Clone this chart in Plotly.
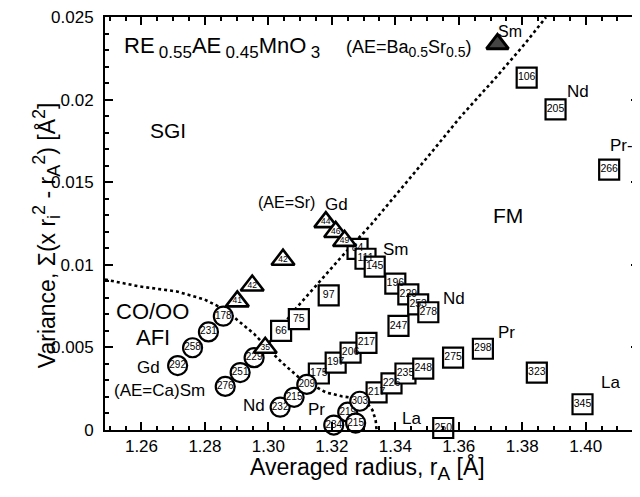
import plotly.graph_objects as go

# ---------------- data ----------------
# AE = Ca series (circles)
ca_labels = ["292", "258", "231", "178", "276", "251", "229", "232", "215", "209",
             "234", "219", "215", "303"]
ca_x = [1.2714, 1.2761, 1.2811, 1.2858, 1.2864, 1.2911, 1.2955, 1.3037, 1.3081, 1.3121,
        1.3206, 1.3250, 1.3275, 1.3288]
ca_y = [0.00390, 0.00498, 0.00594, 0.00689, 0.00264, 0.00348, 0.00438, 0.00138, 0.00198, 0.00276,
        0.00030, 0.00108, 0.00042, 0.00174]

# mixed series (squares)
sq_labels = ["66", "75", "97", "84", "111", "145", "196", "229", "253", "278", "247",
             "175", "197", "206", "217", "217", "226", "235", "248", "275", "298",
             "250", "323", "345", "106", "205", "266"]
sq_x = [1.3040, 1.3096, 1.3190, 1.3281, 1.3306, 1.3335, 1.3400, 1.3441, 1.3472, 1.3504, 1.3410,
        1.3159, 1.3212, 1.3259, 1.3309, 1.3341, 1.3388, 1.3432, 1.3488, 1.3582, 1.3676,
        1.3551, 1.3846, 1.3990, 1.3814, 1.3905, 1.4074]
sq_y = [0.00600, 0.00671, 0.00815, 0.01097, 0.01037, 0.00989, 0.00887, 0.00821, 0.00761, 0.00713, 0.00630,
        0.00342, 0.00408, 0.00468, 0.00528, 0.00228, 0.00282, 0.00342, 0.00372, 0.00438, 0.00492,
        0.00012, 0.00348, 0.00156, 0.02134, 0.01942, 0.01577]

# AE = Sr series (triangles)
tri_labels = ["41", "42", "42", "35", "44", "46", "49"]
tri_x = [1.2902, 1.2949, 1.3046, 1.2990, 1.3181, 1.3212, 1.3240]
tri_y = [0.00779, 0.00875, 0.01031, 0.00498, 0.01259, 0.01199, 0.01145]

# AE = Ba0.5Sr0.5 (triangle)
basr_x = [1.3722]
basr_y = [0.02338]

# phase boundaries (dotted)
coo_x = [1.2485, 1.2595, 1.2711, 1.2798, 1.2861, 1.2908, 1.2955, 1.2996, 1.3043, 1.3096,
         1.3134, 1.3181, 1.3231, 1.3275, 1.3309, 1.3328, 1.3338, 1.3341]
coo_y = [0.00911, 0.00869, 0.00839, 0.00791, 0.00731, 0.00659, 0.00582, 0.00498, 0.00408, 0.00318,
         0.00276, 0.00228, 0.00204, 0.00192, 0.00168, 0.00120, 0.00060, 0.0]
sgi_x = [1.2990, 1.3087, 1.3222, 1.3325, 1.3513, 1.3607, 1.3714, 1.3808, 1.3875]
sgi_y = [0.00498, 0.00737, 0.01031, 0.01247, 0.01679, 0.01900, 0.02128, 0.02338, 0.02500]

FONT = "Arial, Liberation Sans, sans-serif"

fig = go.Figure()

dot = dict(color="black", width=2.6, dash="dot")
fig.add_trace(go.Scatter(x=coo_x, y=coo_y, mode="lines", line=dot, showlegend=False, hoverinfo="skip"))
fig.add_trace(go.Scatter(x=sgi_x, y=sgi_y, mode="lines", line=dot, showlegend=False, hoverinfo="skip"))

mk_line = dict(color="black", width=2.2)
fig.add_trace(go.Scatter(
    x=sq_x, y=sq_y, mode="markers+text", text=sq_labels, textposition="middle center",
    textfont=dict(family=FONT, size=10.5, color="black"),
    marker=dict(symbol="square", size=20, color="white", line=mk_line),
    cliponaxis=False, showlegend=False))
fig.add_trace(go.Scatter(
    x=ca_x, y=ca_y, mode="markers+text", text=ca_labels, textposition="middle center",
    textfont=dict(family=FONT, size=10, color="black"),
    marker=dict(symbol="circle", size=19, color="white", line=mk_line),
    cliponaxis=False, showlegend=False))
fig.add_trace(go.Scatter(
    x=tri_x, y=tri_y, mode="markers+text", text=tri_labels, textposition="middle center",
    textfont=dict(family=FONT, size=8.5, color="black"),
    marker=dict(symbol="triangle-up", size=20, color="white", line=dict(color="black", width=2.6)),
    cliponaxis=False, showlegend=False))
fig.add_trace(go.Scatter(
    x=basr_x, y=basr_y, mode="markers",
    marker=dict(symbol="triangle-up", size=19, color="#444", line=dict(color="black", width=3)),
    cliponaxis=False, showlegend=False))

# The page has an 8 px body margin: screen = figure + 8.
OFF = 8
# plot area in screen pixels
L, R, T, B = 105, 641, 13, 430
FW, FH = R - OFF, 497 - OFF


def px(xp, yp):
    return (xp - L) / (R - L), (B - yp) / (B - T)


def label(xp, yp, text, size, xanchor="center"):
    x, y = px(xp, yp)
    fig.add_annotation(x=x, y=y, xref="paper", yref="paper", text=text, showarrow=False,
                       xanchor=xanchor, yanchor="middle",
                       font=dict(family=FONT, size=size, color="black"))


def small(t, s):
    return "<span style='font-size:%dpx'>%s</span>" % (s, t)


NB = "\u00a0"
label(122, 44, "RE<sub>" + NB + small("0.55", 17) + "</sub>AE<sub>" + NB + small("0.45", 17)
      + "</sub>MnO<sub>" + NB + small("3", 17) + "</sub>", 22, xanchor="left")
label(410, 45, "(AE=Ba<sub>" + small("0.5", 14) + "</sub>Sr<sub>" + small("0.5", 14) + "</sub>)", 18)
label(512, 28, "Sm", 16)
label(168, 128, "SGI", 21)
label(510, 213, "FM", 21)
label(153, 310, "CO/OO", 22)
label(153, 337, "AFI", 22)
label(149, 367, "Gd", 17)
label(160, 390, "(AE=Ca)Sm", 17)
label(255, 405, "Nd", 17)
label(317, 409, "Pr", 17)
label(413, 418, "La", 17)
label(287, 200, "(AE=Sr)", 16)
label(337, 202, "Gd", 17)
label(397, 248, "Sm", 17)
label(455, 297, "Nd", 17)
label(508, 332, "Pr", 17)
label(612, 382, "La", 17)
label(580, 88, "Nd", 17)
label(623, 143, "Pr-", 17)

# axis titles
label(368, 469, "Averaged radius, r<sub>" + small("A", 19) + "</sub> [Å]", 23)
xt, yt = px(27, 233)
ytitle = ("Variance, Σ(x" + NB + "r<sub>" + small("i", 18) + "</sub><sup>" + small("2", 18)
          + "</sup>" + NB + "-" + NB + "r<sub>" + small("A", 18) + "</sub><sup>" + small("2", 18)
          + "</sup>)" + NB + "[Å<sup>" + small("2", 18) + "</sup>]")
fig.add_annotation(x=xt, y=yt, xref="paper", yref="paper", showarrow=False, textangle=-90,
                   text=ytitle, font=dict(family=FONT, size=23, color="black"))

axis_common = dict(showgrid=False, zeroline=False, showline=True, linecolor="black", linewidth=2,
                   mirror="ticks", ticks="inside", ticklen=8, tickwidth=2, tickcolor="black",
                   ticklabeloverflow="allow",
                   tickfont=dict(family=FONT, size=17, color="black"))
fig.update_xaxes(range=[1.2485, 1.4168], tick0=1.26, dtick=0.02, tickformat=".2f",
                 ticklabelstandoff=0,
                 minor=dict(ticks="inside", ticklen=4, tickwidth=1.5, tick0=1.25, dtick=0.005,
                            tickcolor="black"),
                 **axis_common)
fig.update_yaxes(range=[0, 0.02501], tick0=0, dtick=0.005, ticklabelstandoff=6,
                 minor=dict(ticks="inside", ticklen=4, tickwidth=1.5, tick0=0, dtick=0.001,
                            tickcolor="black"),
                 **axis_common)

fig.update_layout(width=FW, height=FH,
                  margin=dict(l=L - OFF, r=0, t=T - OFF, b=FH - (B - OFF)),
                  paper_bgcolor="white", plot_bgcolor="white", showlegend=False,
                  font=dict(family=FONT, color="black"))

fig.write_html("out.html")
